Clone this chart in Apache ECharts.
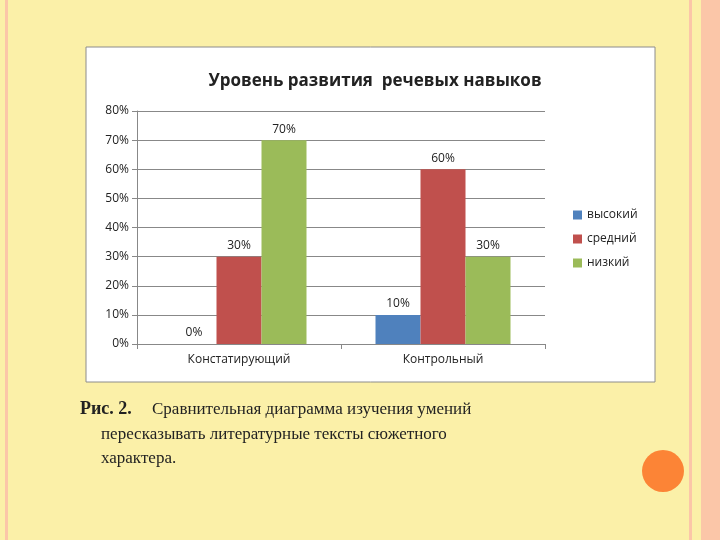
<!DOCTYPE html>
<html><head><meta charset="utf-8">
<script src="https://cdn.jsdelivr.net/npm/echarts@6/dist/echarts.min.js"></script>
<style>html,body{margin:0;padding:0;background:#fbf0a8}#c{width:720px;height:540px}</style>
</head><body><div id="c"></div>
<script>
var categories = ['Констатирующий', 'Контрольный'];
var seriesNames = ['высокий', 'средний', 'низкий'];
var high = [0, 10];
var mid = [30, 60];
var low = [70, 30];
var colors = ['#4f81bd', '#c0504d', '#9bbb59'];

var chart = echarts.init(document.getElementById('c'));
var font = 'Open Sans, DejaVu Sans, sans-serif';

function bar(name, data) {
  return {
    name: name, type: 'bar', data: data, barWidth: 45, barGap: '0%',
    label: { show: true, position: 'top', formatter: '{c}%', color: '#222', fontSize: 12, fontFamily: font }
  };
}

var option = {
  backgroundColor: '#fbf0a8',
  color: colors,
  animation: false,
  graphic: [
    { type: 'rect', shape: { x: 5, y: 0, width: 3, height: 540 }, style: { fill: '#fbc6a8' }, z: -10 },
    { type: 'rect', shape: { x: 689, y: 0, width: 3, height: 540 }, style: { fill: '#fbc6a8' }, z: -10 },
    { type: 'rect', shape: { x: 701, y: 0, width: 19, height: 540 }, style: { fill: '#fbc6a8' }, z: -10 },
    { type: 'rect', shape: { x: 86, y: 47, width: 569, height: 335 }, style: { fill: '#fff', stroke: '#8c8c8c', lineWidth: 1 }, z: -5 },
    { type: 'circle', shape: { cx: 663, cy: 471, r: 21 }, style: { fill: '#fc8436' } },
    { type: 'text', left: 80, top: 400, style: { text: 'Рис. 2.', font: 'bold 18px "Liberation Serif", serif', fill: '#222' } },
    { type: 'text', left: 152, top: 401, style: { text: 'Сравнительная диаграмма изучения умений', font: '17px "Liberation Serif", serif', fill: '#222' } },
    { type: 'text', left: 101, top: 426, style: { text: 'пересказывать литературные тексты сюжетного', font: '17px "Liberation Serif", serif', fill: '#222' } },
    { type: 'text', left: 101, top: 450, style: { text: 'характера.', font: '17px "Liberation Serif", serif', fill: '#222' } }
  ],
  title: {
    text: 'Уровень развития  речевых навыков', left: 370, top: 68, textAlign: 'center',
    textStyle: { fontSize: 17, fontWeight: 'bold', color: '#222', fontFamily: font }
  },
  legend: {
    data: seriesNames, orient: 'vertical', left: 568, top: 204, itemGap: 12,
    itemWidth: 9, itemHeight: 9, icon: 'rect',
    textStyle: { fontSize: 12, color: '#222', fontFamily: font }
  },
  grid: { left: 137, right: 175, top: 111, bottom: 196 },
  xAxis: {
    type: 'category', data: categories,
    axisLine: { lineStyle: { color: '#888' } },
    axisTick: { show: true, alignWithLabel: false, lineStyle: { color: '#888' } },
    axisLabel: { color: '#222', fontSize: 12, fontFamily: font, margin: 10 }
  },
  yAxis: {
    type: 'value', min: 0, max: 80, interval: 10,
    axisLine: { show: true, lineStyle: { color: '#888' } },
    axisTick: { show: true, lineStyle: { color: '#888' } },
    splitLine: { lineStyle: { color: '#888' } },
    axisLabel: { formatter: '{value}%', color: '#222', fontSize: 12, fontFamily: font }
  },
  series: [bar(seriesNames[0], high), bar(seriesNames[1], mid), bar(seriesNames[2], low)]
};
chart.setOption(option);
</script></body></html>
